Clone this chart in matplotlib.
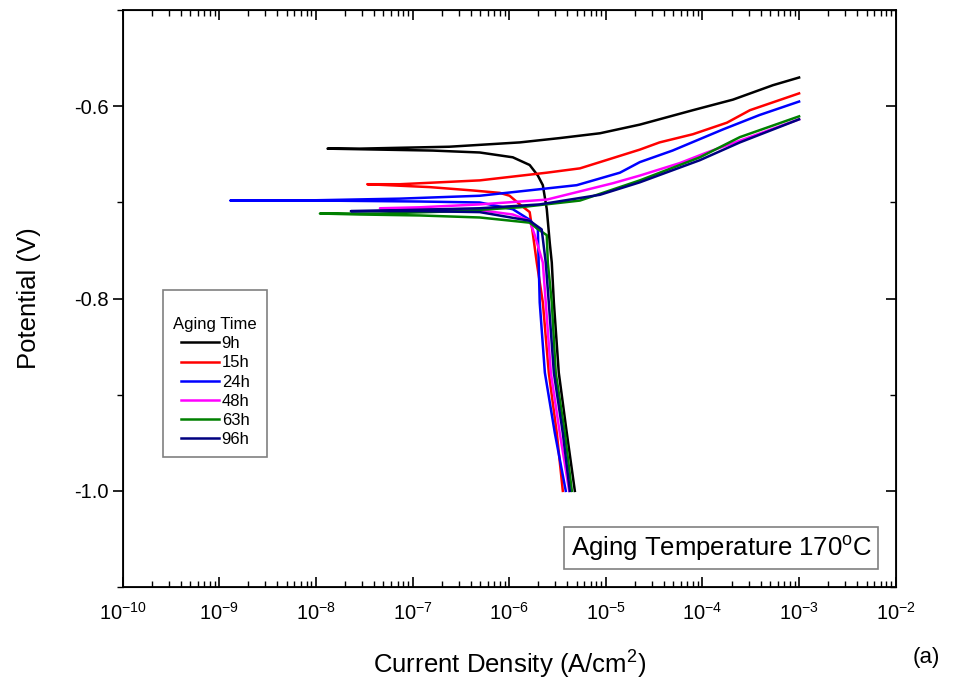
import matplotlib
matplotlib.use('Agg')
import matplotlib.pyplot as plt
from matplotlib.ticker import LogLocator, MultipleLocator, FixedLocator, NullFormatter

plt.rcParams['font.family'] = ['Liberation Sans', 'DejaVu Sans']
plt.rcParams['mathtext.default'] = 'regular'
plt.rcParams['axes.unicode_minus'] = False

# Polarization data: current density (A/cm2) and potential (V)
# each curve: cathodic branch from -1.0 V up to Ecorr, then anodic branch out to 1e-3
i_9h = [4.78e-6, 3.95e-6, 3.26e-6, 2.9e-6, 2.76e-6, 2.63e-6, 2.45e-6, 2.23e-6, 1.98e-6, 1.63e-6,
        1.09e-6, 4.96e-7, 1.62e-7, 4.6e-8, 1.32e-8,
        2.8e-8, 2.4e-7, 1.29e-6, 3.34e-6, 8.7e-6, 2.25e-5, 7.96e-5, 2.07e-4, 5.36e-4, 1.0e-3]
e_9h = [-1.0, -0.940, -0.877, -0.804, -0.7625, -0.742, -0.707, -0.682, -0.672, -0.661,
        -0.653, -0.648, -0.646, -0.645, -0.644,
        -0.644, -0.642, -0.6375, -0.633, -0.628, -0.619, -0.604, -0.593, -0.578, -0.570]

i_15h = [3.59e-6, 3.11e-6, 2.57e-6, 2.23e-6, 1.93e-6, 1.75e-6, 1.63e-6, 1.29e-6, 1.01e-6, 8.0e-7,
         4.2e-7, 1.5e-7, 3.4e-8,
         7.4e-8, 4.97e-7, 2.45e-6, 5.4e-6, 8.7e-6, 2.25e-5, 3.6e-5, 7.96e-5, 1.79e-4, 3.1e-4, 1.0e-3]
e_15h = [-1.0, -0.940, -0.877, -0.804, -0.7625, -0.731, -0.710, -0.702, -0.693, -0.690,
         -0.6875, -0.684, -0.681,
         -0.681, -0.677, -0.669, -0.6645, -0.658, -0.645, -0.6375, -0.629, -0.617, -0.604, -0.5865]

i_24h = [3.85e-6, 2.97e-6, 2.34e-6, 2.07e-6, 2.02e-6, 1.98e-6, 1.63e-6, 1.09e-6, 4.96e-7, 1.19e-7,
         1.1e-8, 1.31e-9,
         6.8e-9, 7.4e-8, 4.96e-7, 5.0e-6, 1.4e-5, 2.25e-5, 4.9e-5, 1.63e-4, 3.9e-4, 1.0e-3]
e_24h = [-1.0, -0.940, -0.877, -0.804, -0.7625, -0.728, -0.718, -0.707, -0.700, -0.699,
         -0.698, -0.698,
         -0.698, -0.696, -0.693, -0.682, -0.669, -0.658, -0.646, -0.624, -0.609, -0.595]

i_48h = [4.18e-6, 3.34e-6, 2.7e-6, 2.39e-6, 2.23e-6, 1.84e-6, 1.63e-6, 1.09e-6, 4.96e-7, 1.19e-7,
         4.6e-8,
         1.19e-7, 4.96e-7, 2.45e-6, 1.18e-5, 2.25e-5, 5.83e-5, 1.11e-4, 3.5e-4, 1.0e-3]
e_48h = [-1.0, -0.940, -0.877, -0.804, -0.7625, -0.734, -0.719, -0.7125, -0.708, -0.707,
         -0.706,
         -0.705, -0.702, -0.697, -0.680, -0.672, -0.659, -0.648, -0.630, -0.6135]

i_63h = [4.45e-6, 3.77e-6, 3.03e-6, 2.76e-6, 2.51e-6, 2.45e-6, 2.07e-6, 1.63e-6, 4.96e-7, 1.19e-7,
         2.84e-8, 1.1e-8,
         4.6e-8, 3.08e-7, 1.29e-6, 5.4e-6, 2.25e-5, 9.4e-5, 2.44e-4, 1.0e-3]
e_63h = [-1.0, -0.940, -0.877, -0.804, -0.7625, -0.734, -0.729, -0.721, -0.7156, -0.7135,
         -0.7125, -0.7115,
         -0.7115, -0.709, -0.705, -0.698, -0.677, -0.653, -0.632, -0.6104]

i_96h = [4.24e-6, 3.59e-6, 2.9e-6, 2.57e-6, 2.39e-6, 2.17e-6, 1.63e-6, 4.96e-7, 1.19e-7, 2.3e-8,
         7.4e-8, 4.96e-7, 2.07e-6, 8.7e-6, 2.25e-5, 9.4e-5, 2.44e-4, 1.0e-3]
e_96h = [-1.0, -0.940, -0.877, -0.804, -0.7625, -0.728, -0.719, -0.710, -0.709, -0.709,
         -0.708, -0.706, -0.702, -0.692, -0.679, -0.656, -0.6375, -0.6135]

labels = ['9h', '15h', '24h', '48h', '63h', '96h']
colors = ['black', 'red', 'blue', 'magenta', 'green', 'navy']
currents = [i_9h, i_15h, i_24h, i_48h, i_63h, i_96h]
potentials = [e_9h, e_15h, e_24h, e_48h, e_63h, e_96h]

fig = plt.figure(figsize=(9.58, 6.81), dpi=100)
ax = fig.add_axes([0.128, 0.138, 0.807, 0.847])

for cur, pot, lab, col in zip(currents, potentials, labels, colors):
    ax.plot(cur, pot, color=col, lw=1.8, label=lab)

ax.set_xscale('log')
ax.set_xlim(1e-10, 1e-2)
ax.set_ylim(-1.1, -0.5)

ax.xaxis.set_major_locator(FixedLocator([10.0**k for k in range(-10, -1)]))
ax.xaxis.set_minor_locator(LogLocator(base=10, subs=range(2, 10), numticks=20))
ax.xaxis.set_minor_formatter(NullFormatter())
ax.set_xticklabels(['$10^{%d}$' % k for k in range(-10, -1)])
ax.yaxis.set_major_locator(FixedLocator([-1.0, -0.8, -0.6]))
ax.yaxis.set_minor_locator(MultipleLocator(0.1))
ax.set_yticklabels(['-1.0', '-0.8', '-0.6'])

ax.tick_params(axis='x', which='both', direction='in', top=True, labelsize=14.5, pad=11)
ax.tick_params(axis='x', which='major', length=7, width=1.2)
ax.tick_params(axis='x', which='minor', length=4, width=1)
ax.tick_params(axis='y', which='both', direction='out', labelsize=14.5, pad=3)
ax.tick_params(axis='y', which='major', length=7, width=1.2)
ax.tick_params(axis='y', which='minor', length=4, width=1)
for s in ax.spines.values():
    s.set_linewidth(1.3)

# right-hand ticks point inward
ay = ax.twinx()
ay.set_ylim(ax.get_ylim())
ay.yaxis.set_major_locator(FixedLocator([-1.0, -0.8, -0.6]))
ay.yaxis.set_minor_locator(MultipleLocator(0.1))
ay.tick_params(axis='y', which='both', direction='in', labelright=False)
ay.tick_params(axis='y', which='major', length=7, width=1.2)
ay.tick_params(axis='y', which='minor', length=4, width=1)

ax.set_xlabel('Current Density (A/cm$^2$)', fontsize=18.5, labelpad=18)
ax.set_ylabel('Potential (V)', fontsize=18.5, labelpad=24)

leg = ax.legend(title='\nAging Time', loc='upper left', bbox_to_anchor=(0.042, 0.53),
                fontsize=12, title_fontsize=12, labelspacing=0.25, handlelength=2.3,
                handletextpad=0.15, borderpad=0.6, fancybox=False, framealpha=1,
                edgecolor='gray')
leg.get_frame().set_linewidth(1.2)

ax.text(0.774, 0.067, 'Aging Temperature 170$^{o}$C', transform=ax.transAxes,
        fontsize=18.5, ha='center', va='center',
        bbox=dict(boxstyle='square,pad=0.25', fc='white', ec='gray', lw=1.2))

fig.text(0.967, 0.034, '(a)', fontsize=16, ha='center', va='center')

fig.savefig('out.png', dpi=100)
